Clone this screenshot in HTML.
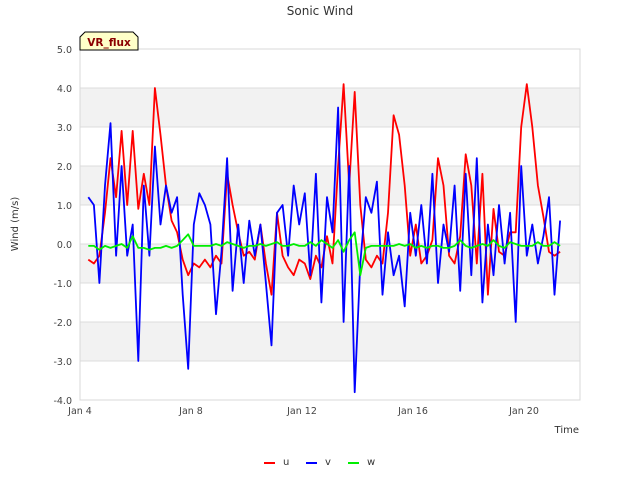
<!DOCTYPE html>
<html><head><meta charset="utf-8"><style>
body{margin:0;background:#fff;}
svg text{font-family:"DejaVu Sans","Liberation Sans",sans-serif;}
</style></head><body>
<svg id="chart" width="640" height="480" xmlns="http://www.w3.org/2000/svg">
<text x="320" y="15" text-anchor="middle" font-size="12" fill="#333">Sonic Wind</text>
<g id="bands"></g>
<g id="grid"></g>
<rect x="80" y="49" width="500" height="351" fill="none" stroke="#d8d8d8"/>
<g id="yticks"></g>
<g id="xticks"></g>
<text transform="translate(18,224) rotate(-90)" text-anchor="middle" font-size="10" fill="#333">Wind (m/s)</text>
<text x="579" y="433" text-anchor="end" font-size="10" fill="#333">Time</text>
<g id="series"></g>
<g>
<path d="M80,50 L80,37 L85,32 L133,32 L138,37 L138,50 Z" fill="#ffffc8" stroke="#000" stroke-width="1"/>
<text x="109" y="46" text-anchor="middle" font-size="10.5" font-weight="bold" fill="#8b0000">VR_flux</text>
</g>
<g id="legend"></g>
</svg>
<script>
const uValues=[-0.4,-0.5,-0.3,0.8,2.2,1.2,2.9,1.0,2.9,0.9,1.8,1.0,4.0,2.8,1.5,0.6,0.3,-0.4,-0.8,-0.5,-0.6,-0.4,-0.6,-0.3,-0.5,1.8,1.0,0.3,-0.3,-0.2,-0.4,0.5,-0.5,-1.3,0.8,-0.3,-0.6,-0.8,-0.4,-0.5,-0.9,-0.3,-0.6,0.2,-0.5,2.0,4.1,1.5,3.9,1.0,-0.4,-0.6,-0.3,-0.5,0.8,3.3,2.8,1.5,-0.3,0.5,-0.5,-0.3,0.1,2.2,1.5,-0.3,-0.5,0.2,2.3,1.5,-0.5,1.8,-1.3,0.9,-0.2,-0.3,0.3,0.3,3.0,4.1,3.0,1.5,0.7,-0.2,-0.3,-0.2];
const vValues=[1.2,1.0,-1.0,1.5,3.1,-0.3,2.0,-0.3,0.5,-3.0,1.5,-0.3,2.5,0.5,1.5,0.8,1.2,-1.3,-3.2,0.5,1.3,1.0,0.5,-1.8,-0.2,2.2,-1.2,0.5,-1.0,0.6,-0.3,0.5,-1.0,-2.6,0.8,1.0,-0.3,1.5,0.5,1.3,-0.8,1.8,-1.5,1.2,0.3,3.5,-2.0,2.0,-3.8,-0.5,1.2,0.8,1.6,-1.3,0.3,-0.8,-0.3,-1.6,0.8,-0.3,1.0,-0.5,1.8,-1.0,0.5,-0.2,1.5,-1.2,1.8,-0.8,2.2,-1.5,0.5,-0.8,1.0,-0.5,0.8,-2.0,2.0,-0.3,0.5,-0.5,0.2,1.2,-1.3,0.6];
const wValues=[-0.05,-0.05,-0.15,-0.05,-0.1,-0.05,0.0,-0.1,0.2,-0.1,-0.1,-0.15,-0.1,-0.1,-0.05,-0.1,-0.05,0.1,0.25,-0.05,-0.05,-0.05,-0.05,0.0,-0.05,0.05,0.0,-0.05,-0.1,-0.05,-0.05,0.0,-0.05,0.0,0.05,-0.05,-0.05,0.0,-0.05,-0.05,0.05,-0.05,0.1,0.0,-0.1,0.1,-0.2,0.1,0.3,-0.8,-0.1,-0.05,-0.05,-0.05,-0.05,-0.05,0.0,-0.05,0.0,-0.1,-0.05,-0.1,-0.05,-0.05,-0.1,-0.1,-0.05,0.1,-0.05,-0.1,-0.05,0.0,-0.05,0.1,-0.05,-0.1,0.05,0.0,-0.05,-0.05,-0.05,0.05,-0.05,-0.05,0.05,-0.05];
const startDay=4.3, stepDay=0.2;
const yTicks=[5,4,3,2,1,0,-1,-2,-3,-4];
const xTickDays=[4,8,12,16,20];
const xTickLabels=["Jan 4","Jan 8","Jan 12","Jan 16","Jan 20"];
const seriesNames=["u","v","w"];
const seriesColors=["#ff0000","#0000ff","#00ee00"];

const NS="http://www.w3.org/2000/svg";
const X=d=>80+(d-4)*27.75;
const Y=v=>244-v*39;
function mk(tag,attrs,parent){const e=document.createElementNS(NS,tag);for(const k in attrs)e.setAttribute(k,attrs[k]);parent.appendChild(e);return e;}
const bands=document.getElementById('bands'),grid=document.getElementById('grid'),yt=document.getElementById('yticks'),xt=document.getElementById('xticks');
[4,2,0,-2].forEach(t=>{const r=mk('rect',{x:80,y:Y(t),width:500,height:39,fill:'#f2f2f2'},bands);

});
yTicks.forEach(t=>{const l=mk('line',{x1:80,x2:580,y1:Y(t),y2:Y(t),stroke:'#dcdcdc'},grid);


const tx=mk('text',{x:72,y:Y(t)+4,'text-anchor':'end','font-size':'9.5',fill:'#444'},yt);


tx.textContent=t.toFixed(1);});
xTickDays.forEach((d,i)=>{const tx=mk('text',{x:X(d),y:414,'text-anchor':'middle','font-size':'9.5',fill:'#444'},xt);


tx.textContent=xTickLabels[i];});
const ser=document.getElementById('series');
[uValues,vValues,wValues].forEach((vals,si)=>{const pts=vals.map((v,i)=>X(startDay+i*stepDay).toFixed(1)+','+Y(v).toFixed(1)).join(' ');
const p=mk('polyline',{points:pts,fill:'none',stroke:seriesColors[si],'stroke-width':1.8,'stroke-linejoin':'round'},ser);

});
const lg=document.getElementById('legend');
const lx=[264,306,348];
seriesNames.forEach((n,i)=>{const g=mk('g',{},lg);


mk('line',{x1:lx[i],x2:lx[i]+11,y1:463,y2:463,stroke:seriesColors[i],'stroke-width':2},g);
const t=mk('text',{x:lx[i]+19,y:465,'font-size':'10',fill:'#333'},g);t.textContent=n;});
</script>
</body></html>
